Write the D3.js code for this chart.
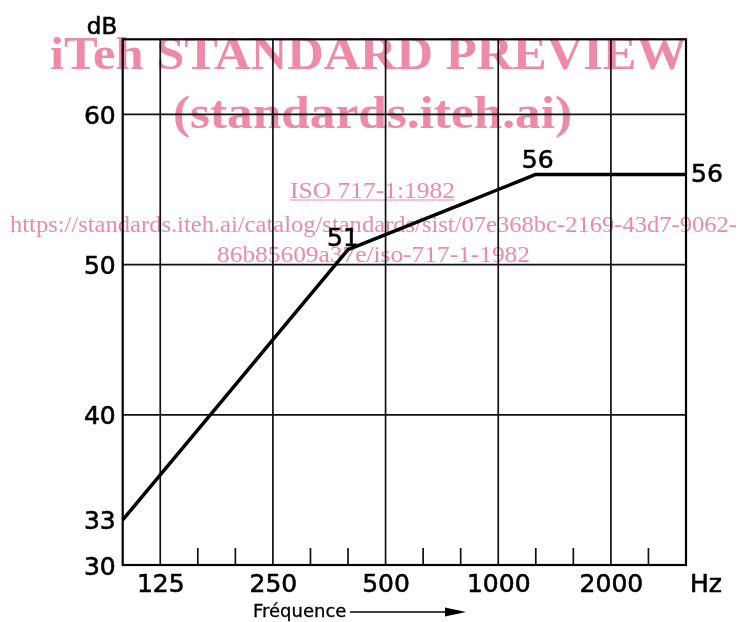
<!DOCTYPE html>
<html lang="en">
<head>
  <meta charset="UTF-8">
  <title>ISO 717-1 reference curve</title>
  <style>
    html, body { margin: 0; padding: 0; background: #fff; }
    #svg { display: block; }
    .wm { mix-blend-mode: multiply; }
  </style>
</head>
<body>
  <svg id="svg" width="740" height="622"></svg>
  <script src="https://d3js.org/d3.v7.min.js"></script>
  <script>
    // third-octave bands, 100 .. 3150 Hz
    const bands = ['100', '125', '160', '200', '250', '315', '400', '500', '630',
      '800', '1000', '1250', '1600', '2000', '2500', '3150']
    const refValues = [33, 36, 39, 42, 45, 48, 51, 52, 53, 54, 55, 56, 56, 56, 56, 56]
    const majorBands = ['125', '250', '500', '1000', '2000']
    const minorBands = ['160', '200', '315', '400', '630', '800', '1250', '1600', '2500']
    const yTicks = [30, 33, 40, 50, 60]
    const yGrid = [40, 50, 60]
    const pointLabels = [
      { band: '400', value: 51, text: '51' },
      { band: '1250', value: 56, text: '56' },
      { band: '3150', value: 56, text: '56' }
    ]

    const plotL = 122.7, plotR = 686, plotT = 39.3, plotB = 565
    const font = 'DejaVu Sans'

    const x = d3.scalePoint().domain(bands).range([plotL, plotR])
    const y = d3.scaleLinear().domain([30, 65]).range([plotB, plotT])

    const svg = d3.select('#svg')
    const chart = svg.append('g')

    // little helper so every black label gets the same heavier look
    function label(sel, size) {
      sel.style('font-family', font)
        .style('font-size', size + 'px')
        .attr('fill', '#000')
        .attr('stroke', '#000')
        .attr('stroke-width', 0.6)
    }

    // horizontal grid
    chart.selectAll('line.hgrid')
      .data(yGrid)
      .enter()
      .append('line')
      .attr('x1', plotL).attr('x2', plotR)
      .attr('y1', d => y(d)).attr('y2', d => y(d))
      .attr('stroke', '#111').attr('stroke-width', 1.7)

    // vertical grid at octave bands
    chart.selectAll('line.vgrid')
      .data(majorBands)
      .enter()
      .append('line')
      .attr('x1', d => x(d)).attr('x2', d => x(d))
      .attr('y1', plotT).attr('y2', plotB)
      .attr('stroke', '#111').attr('stroke-width', 1.7)

    // short ticks for the other third-octave bands
    chart.selectAll('line.minor')
      .data(minorBands)
      .enter()
      .append('line')
      .attr('x1', d => x(d)).attr('x2', d => x(d))
      .attr('y1', plotB).attr('y2', plotB - 17)
      .attr('stroke', '#111').attr('stroke-width', 1.7)

    // frame
    chart.append('rect')
      .attr('x', plotL).attr('y', plotT)
      .attr('width', plotR - plotL).attr('height', plotB - plotT)
      .attr('fill', 'none').attr('stroke', '#000').attr('stroke-width', 2.2)

    // reference curve
    const line = d3.line()
      .x((d, i) => x(bands[i]))
      .y(d => y(d))
    chart.append('path')
      .datum(refValues)
      .attr('d', line)
      .attr('fill', 'none')
      .attr('stroke', '#000')
      .attr('stroke-width', 3.5)
      .attr('stroke-linejoin', 'round')

    // y axis labels
    const yAxis = d3.axisLeft(y)
      .tickValues(yTicks)
      .tickSize(0)
      .tickPadding(7)
    const gy = svg.append('g')
      .attr('transform', `translate(${plotL}, 0)`)
      .call(yAxis)
    gy.select('.domain').remove()
    gy.selectAll('text')
      .attr('dy', '0.36em')
      .call(label, 25)

    // x axis labels
    const xAxis = d3.axisBottom(x)
      .tickValues(majorBands)
      .tickSize(0)
      .tickPadding(9)
    const gx = svg.append('g')
      .attr('transform', `translate(0, ${plotB})`)
      .call(xAxis)
    gx.select('.domain').remove()
    gx.selectAll('text')
      .call(label, 25)

    svg.append('text')
      .attr('x', 102).attr('y', 34)
      .attr('text-anchor', 'middle')
      .text('dB')
      .call(label, 23)

    svg.append('text')
      .attr('x', 706).attr('y', 592)
      .attr('text-anchor', 'middle')
      .text('Hz')
      .call(label, 25)

    svg.append('text')
      .attr('x', 253).attr('y', 617)
      .text('Fréquence')
      .call(label, 18)
      .attr('stroke-width', 0.3)

    svg.append('line')
      .attr('x1', 350).attr('x2', 450)
      .attr('y1', 612).attr('y2', 612)
      .attr('stroke', '#000').attr('stroke-width', 1.6)
    svg.append('path')
      .attr('d', 'M445,607.5 L466,612 L445,616.5 Z')
      .attr('fill', '#000')

    // values on the curve
    const offsets = { '400': [-21, -4], '1250': [-14, -6], '3150': [5, 8] }
    svg.selectAll('text.val')
      .data(pointLabels)
      .enter()
      .append('text')
      .attr('x', d => x(d.band) + offsets[d.band][0])
      .attr('y', d => y(d.value) + offsets[d.band][1])
      .text(d => d.text)
      .call(label, 25)

    // preview watermark
    const wm = svg.append('g').attr('class', 'wm')
      .attr('fill', '#ee8aa8')
      .style('font-family', 'Liberation Serif')
    wm.append('text')
      .attr('x', 50).attr('y', 69)
      .attr('textLength', 637).attr('lengthAdjust', 'spacingAndGlyphs')
      .style('font-size', '47px').style('font-weight', 'bold')
      .text('iTeh STANDARD PREVIEW')
    wm.append('text')
      .attr('x', 173).attr('y', 128)
      .attr('textLength', 399).attr('lengthAdjust', 'spacingAndGlyphs')
      .style('font-size', '47px').style('font-weight', 'bold')
      .text('(standards.iteh.ai)')
    wm.append('text')
      .attr('x', 290).attr('y', 198)
      .attr('textLength', 165).attr('lengthAdjust', 'spacingAndGlyphs')
      .style('font-size', '24px')
      .text('ISO 717-1:1982')
    wm.append('line')
      .attr('x1', 290).attr('x2', 455)
      .attr('y1', 200).attr('y2', 200)
      .attr('stroke', '#ee8aa8').attr('stroke-width', 1.2)
    wm.append('text')
      .attr('x', 10).attr('y', 232)
      .attr('textLength', 727).attr('lengthAdjust', 'spacingAndGlyphs')
      .style('font-size', '24px')
      .text('https://standards.iteh.ai/catalog/standards/sist/07e368bc-2169-43d7-9062-')
    wm.append('text')
      .attr('x', 217).attr('y', 262)
      .attr('textLength', 313).attr('lengthAdjust', 'spacingAndGlyphs')
      .style('font-size', '24px')
      .text('86b85609a37e/iso-717-1-1982')
  </script>
</body>
</html>
